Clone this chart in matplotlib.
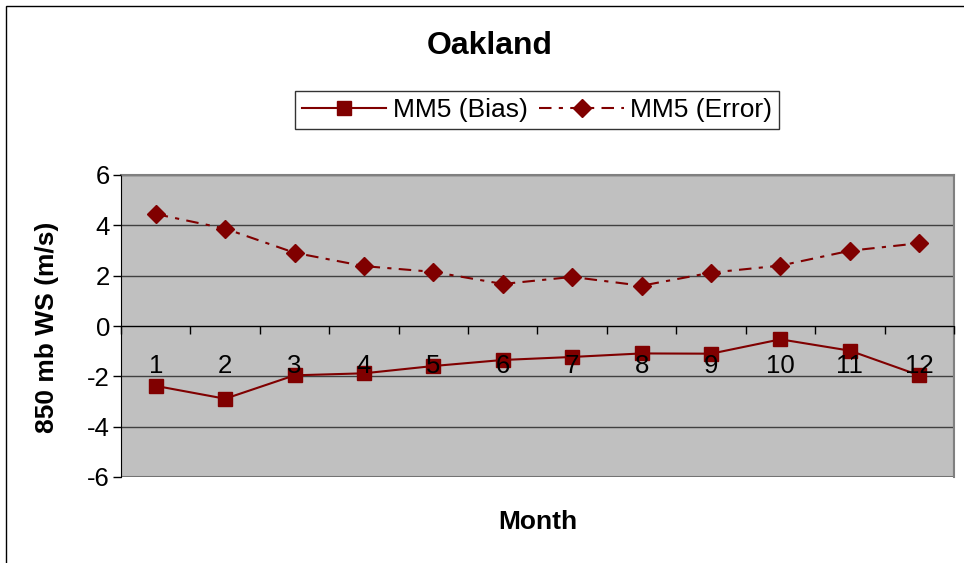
import matplotlib.pyplot as plt
from matplotlib.patches import Rectangle

plt.rcParams['font.family'] = ['Liberation Sans', 'DejaVu Sans']

# Monthly 850 mb wind speed statistics for Oakland
months = list(range(1, 13))
month_labels = [str(m) for m in months]
y_ticks = [-6, -4, -2, 0, 2, 4, 6]
y_labels = ['-6', '-4', '-2', '0', '2', '4', '6']
bias = [-2.38, -2.89, -1.96, -1.88, -1.59, -1.35, -1.23, -1.09, -1.10, -0.53, -0.98, -1.96]
error = [4.45, 3.87, 2.91, 2.38, 2.15, 1.67, 1.95, 1.60, 2.12, 2.40, 2.99, 3.29]

color = '#800000'

fig = plt.figure(figsize=(9.64, 5.63), dpi=100)
fig.patches.append(Rectangle((6 / 964, -0.1), 1.2, 1 - 6 / 563 + 0.1,
                             transform=fig.transFigure, fill=False,
                             edgecolor='black', linewidth=1.0))

ax = fig.add_axes([121 / 964, 1 - 477 / 563, 833 / 964, 302 / 563])
ax.set_facecolor('#C0C0C0')
ax.set_axisbelow(False)

ax.plot(months, bias, color=color, lw=1.5, marker='s', markersize=9.5,
        label='MM5 (Bias)', zorder=2)
ax.plot(months, error, color=color, lw=1.5, marker='D', markersize=9,
        linestyle=(0, (6, 3.5, 2, 3.5)), label='MM5 (Error)', zorder=2)

ax.set_xlim(0.5, 12.5)
ax.set_ylim(-6, 6)
ax.set_yticks(y_ticks)
ax.set_yticklabels(y_labels)
for y in y_ticks:
    ax.axhline(y, color='#404040', lw=1.0, zorder=1)

# category axis sits at zero, ticks between months, labels centred
ax.spines['bottom'].set_position(('data', 0))
ax.spines['bottom'].set_color('black')
ax.set_xticks([m + 0.5 for m in months[:-1]] + [0.5, 12.5])
ax.set_xticklabels([])
ax.set_xticks(months, minor=True)
ax.set_xticklabels(month_labels, minor=True)
ax.tick_params(axis='x', which='major', direction='out', length=6, width=1, color='black')
ax.tick_params(axis='x', which='minor', length=0, pad=20.5, labelsize=18.5)
ax.tick_params(axis='y', direction='out', length=6, width=1, labelsize=18.5, pad=2)

for side in ['top', 'right']:
    ax.spines[side].set_color('#808080')
    ax.spines[side].set_linewidth(1.5)
ax.spines['left'].set_color('black')
ax.add_patch(Rectangle((0, 0), 1, 1, transform=ax.transAxes, fill=False,
                       edgecolor='#808080', lw=1.5, zorder=0.5))

fig.text(490 / 964, 1 - 46 / 563, 'Oakland', ha='center', va='center',
         fontsize=23, fontweight='bold')
fig.text(47 / 964, 1 - 327 / 563, '850 mb WS (m/s)', ha='center', va='center',
         rotation=90, fontsize=19, fontweight='bold')
fig.text(538 / 964, 1 - 522 / 563, 'Month', ha='center', va='center',
         fontsize=19, fontweight='bold')

leg = fig.legend(loc='center', bbox_to_anchor=(537 / 964, 1 - 110 / 563), ncol=2,
                 fontsize=19, frameon=True, fancybox=False, edgecolor='black',
                 handlelength=3.2, columnspacing=0.45, handletextpad=0.25,
                 borderpad=0.25, borderaxespad=0)
leg.get_frame().set_linewidth(1.0)

fig.savefig('out.png', dpi=100)
